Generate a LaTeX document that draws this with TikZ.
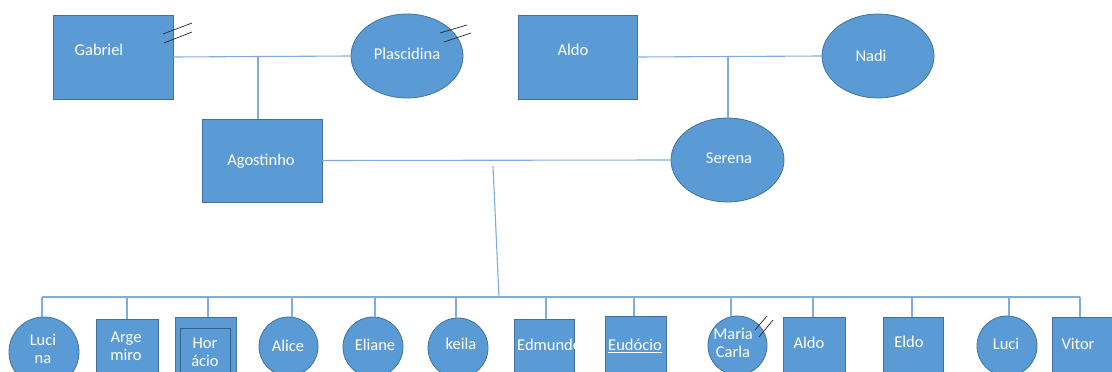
\documentclass[tikz,border=0pt]{standalone}
\usepackage{fontspec}
\setmainfont{Carlito}
\usetikzlibrary{shapes.geometric}
\definecolor{fillc}{HTML}{5B9BD5}
\definecolor{bordc}{HTML}{41719C}
\definecolor{linec}{HTML}{7FAEDE}
\tikzset{
  box/.style={rectangle,draw=bordc,fill=fillc,line width=0.8pt,inner sep=0pt},
  oval/.style={ellipse,draw=bordc,fill=fillc,line width=0.8pt,inner sep=0pt},
  txt/.style={text=white,font=\fontsize{16.5}{18}\selectfont,align=center,inner sep=0pt},
  link/.style={draw=linec,line width=1.1pt},
  slash/.style={draw=black!85,line width=0.7pt},
}
\begin{document}
\begin{tikzpicture}[x=1pt,y=-1pt]
\path[use as bounding box] (0,0) rectangle (1112,372);
\clip (0,0) rectangle (1112,372);
% top generation
\node[box,minimum width=120pt,minimum height=84pt] (gabriel) at (113,57) {};
\node[oval,minimum width=112pt,minimum height=84pt] (plasc) at (407,56) {};
\node[box,minimum width=119pt,minimum height=84pt] (aldo) at (577.5,57) {};
\node[oval,minimum width=112pt,minimum height=84pt] (nadi) at (878,56) {};
\node[box,minimum width=120pt,minimum height=83pt] (agost) at (262,160.5) {};
\node[oval,minimum width=113pt,minimum height=84pt] (serena) at (727.5,160) {};
\node[txt] (tgabriel) at (99,50) {Gabriel};
\node[txt] (tplasc) at (407,54) {Plascidina};
\node[txt] (taldo) at (573,50) {Aldo};
\node[txt] (tnadi) at (871,56) {Nadi};
\node[txt] (tagost) at (261,161) {Agostinho};
\node[txt] (tserena) at (729,158) {Serena};
% slashes
\draw[slash] (163,34) -- (192,23);
\draw[slash] (164,43) -- (192,32);
\draw[slash] (440,33) -- (467,25);
\draw[slash] (444,42) -- (471,33);
% couple links
\draw[link] (gabriel.east) -- (plasc.west);
\coordinate (m1) at (258,57);
\draw[link] (m1) -- (m1 |- agost.north);
\draw[link] (aldo.east) -- (nadi.west);
\coordinate (m2) at (728,57);
\draw[link] (m2) -- (m2 |- serena.north);
\draw[link] (agost.east) -- (serena.west);
\coordinate (m3) at (493,166);
\coordinate (bar) at (499,297);
\draw[link] (m3) -- (bar);
\coordinate (barL) at (42,297);
\coordinate (barR) at (1080,297);
\draw[link] (barL) -- (barR);
% children
\node[oval,minimum width=70pt,minimum height=70pt] (lucina) at (44,352) {};
\node[box,minimum width=62pt,minimum height=62pt] (argemiro) at (127,350) {};
\node[box,minimum width=61pt,minimum height=62pt] (horacio) at (205.5,348) {};
\node[box,draw=bordc!85!black,minimum width=50pt,minimum height=60pt] (horacioin) at (205,358) {};
\node[oval,minimum width=59pt,minimum height=59pt] (alice) at (288.5,346.5) {};
\node[oval,minimum width=60pt,minimum height=60pt] (eliane) at (373,347) {};
\node[oval,minimum width=60pt,minimum height=60pt] (keila) at (458,348) {};
\node[box,minimum width=60pt,minimum height=62pt] (edmundo) at (544,350) {};
\node[box,minimum width=61pt,minimum height=62pt] (eudocio) at (635.5,347) {};
\node[oval,minimum width=59pt,minimum height=59pt] (maria) at (737.5,345.5) {};
\node[box,minimum width=62pt,minimum height=62pt] (aldob) at (814,348) {};
\node[box,minimum width=60pt,minimum height=62pt] (eldo) at (913,348) {};
\node[oval,minimum width=60pt,minimum height=60pt] (luci) at (1007,346) {};
\node[box,minimum width=60pt,minimum height=62pt] (vitor) at (1082,348) {};
% drops
\foreach \x/\c in {42/lucina,127/argemiro,208/horacio,292/alice,375/eliane,456/keila,546/edmundo,634/eudocio,731/maria,813/aldob,912/eldo,1009/luci,1080/vitor}{
  \coordinate (d-\c) at (\x,297);
  \draw[link] (d-\c) -- (d-\c |- \c.north);
}
% children texts
\node[txt] (tlucina) at (43,349) {Luci\\na};
\node[txt] (targemiro) at (126,346) {Arge\\miro};
\node[txt] (thoracio) at (205,352) {Hor\\ácio};
\node[txt] (talice) at (288,346) {Alice};
\node[txt] (teliane) at (375,345) {Eliane};
\node[txt] (tkeila) at (461,344) {keila};
\begin{scope}
\clip (edmundo.north west) rectangle (edmundo.south east);
\node[txt,anchor=west] (tedmundo) at (517,345) {Edmundo};
\end{scope}
\node[txt] (teudocio) at (635,346) {\underline{Eudócio}};
\node[txt] (tmaria) at (733,343) {Maria\\Carla};
\node[txt] (taldob) at (809,343) {Aldo};
\node[txt] (teldo) at (909,342) {Eldo};
\node[txt] (tluci) at (1006,344) {Luci};
\node[txt] (tvitor) at (1078,344) {Vitor};
\draw[slash] (755,330) -- (767,316);
\draw[slash] (759,337) -- (773,320);
\end{tikzpicture}
\end{document}
